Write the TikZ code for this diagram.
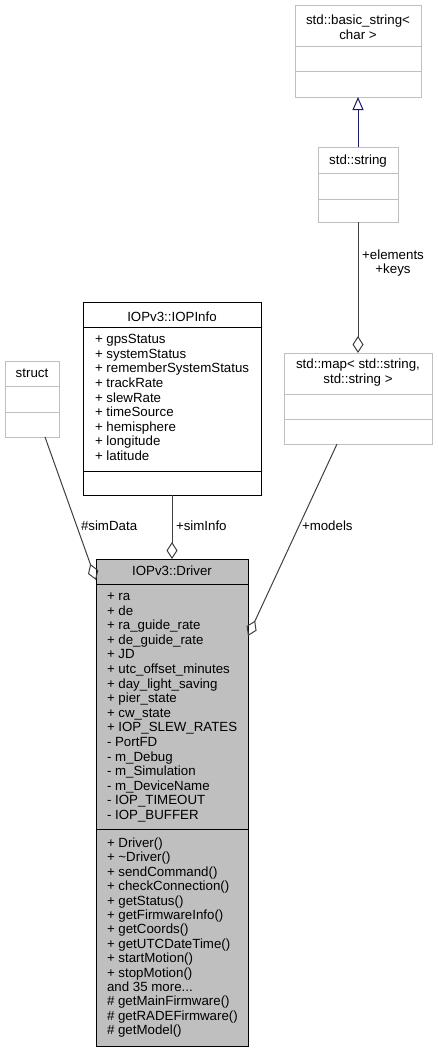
\documentclass[tikz,border=0pt]{standalone}
\usepackage{fontspec}
\setmainfont{Liberation Sans}
\usetikzlibrary{arrows.meta}
\definecolor{boxgray}{HTML}{BFBFBF}
\definecolor{edgegray}{HTML}{404040}
\definecolor{navyedge}{HTML}{191970}
\newcommand\mymoredots{...}
\begin{document}
\begin{tikzpicture}[x=1pt,y=-1pt,
  every node/.style={font=\fontsize{13.3}{14.5}\selectfont, inner sep=0pt, outer sep=0pt},
  lightbox/.style={draw=boxgray, line width=1pt, fill=white, anchor=north west},
  darkbox/.style={draw=black, line width=1pt, fill=white, anchor=north west},
  drvbox/.style={draw=black, line width=1pt, fill=boxgray, anchor=north west},
  lightdiv/.style={draw=boxgray, line width=1pt},
  darkdiv/.style={draw=black, line width=1pt},
  txt/.style={anchor=base},
  item/.style={anchor=base west},
  lbl/.style={anchor=base west},
  usage/.style={draw=edgegray, line width=1pt, -{Diamond[open, length=17pt, width=11pt]}},
  inherit/.style={draw=navyedge, line width=1pt, -{Triangle[open, length=13pt, width=11pt]}}
]
\fill[white] (0,0) rectangle (438,1052);
\useasboundingbox (0,0) rectangle (438,1052);

% std::basic_string< char >
\node[lightbox, minimum width=126pt, minimum height=92pt] (bstr) at (295,5) {};
\draw[lightdiv] (bstr.west |- 0,46) -- (bstr.east |- 0,46);
\draw[lightdiv] (bstr.west |- 0,71) -- (bstr.east |- 0,71);
\node[txt] (bstr-t1) at (358,24) {std::basic\_string<};
\node[txt] (bstr-t2) at (358,39) {char >};

% std::string
\node[lightbox, minimum width=80pt, minimum height=75pt] (sstr) at (318,147) {};
\draw[lightdiv] (sstr.west |- 0,173) -- (sstr.east |- 0,173);
\draw[lightdiv] (sstr.west |- 0,199) -- (sstr.east |- 0,199);
\node[txt] (sstr-t) at (358,164) {std::string};

% std::map
\node[lightbox, minimum width=148pt, minimum height=91pt] (map) at (284,353) {};
\draw[lightdiv] (map.west |- 0,394) -- (map.east |- 0,394);
\draw[lightdiv] (map.west |- 0,419) -- (map.east |- 0,419);
\node[txt] (map-t1) at (358,368) {std::map< std::string,};
\node[txt] (map-t2) at (358,383) {std::string >};

% struct
\node[lightbox, minimum width=54pt, minimum height=76pt] (struct) at (5,361) {};
\draw[lightdiv] (struct.west |- 0,386) -- (struct.east |- 0,386);
\draw[lightdiv] (struct.west |- 0,412) -- (struct.east |- 0,412);
\node[txt] (struct-t) at (32,377.5) {struct};

% IOPv3::IOPInfo
\node[darkbox, minimum width=178pt, minimum height=193pt] (iop) at (83,302) {};
\draw[darkdiv] (iop.west |- 0,327) -- (iop.east |- 0,327);
\draw[darkdiv] (iop.west |- 0,471) -- (iop.east |- 0,471);
\node[txt] (iop-t) at (172,321) {IOPv3::IOPInfo};
\foreach \t [count=\i] in {+ gpsStatus, + systemStatus, + rememberSystemStatus, + trackRate,
  + slewRate, + timeSource, + hemisphere, + longitude, + latitude}
  \node[item] (iop-a\i) at (95,{343.7+(\i-1)*14.6}) {\t};

% IOPv3::Driver
\node[drvbox, minimum width=152pt, minimum height=487pt] (drv) at (96,559) {};
\draw[darkdiv] (drv.west |- 0,584) -- (drv.east |- 0,584);
\draw[darkdiv] (drv.west |- 0,829) -- (drv.east |- 0,829);
\node[txt] (drv-t) at (172,575.5) {IOPv3::Driver};
\foreach \t [count=\i] in {+ ra, + de, + ra\_guide\_rate, + de\_guide\_rate, + JD,
  + utc\_offset\_minutes, + day\_light\_saving, + pier\_state, + cw\_state,
  + IOP\_SLEW\_RATES, - PortFD, - m\_Debug, - m\_Simulation, - m\_DeviceName,
  - IOP\_TIMEOUT, - IOP\_BUFFER}
  \node[item] (drv-a\i) at (107,{600.5+(\i-1)*14.6}) {\t};
\foreach \t [count=\i] in {+ Driver(), + \textasciitilde Driver(), + sendCommand(),
  + checkConnection(), + getStatus(), + getFirmwareInfo(), + getCoords(),
  + getUTCDateTime(), + startMotion(), + stopMotion(), {and 35 more\mymoredots},
  {\# getMainFirmware()}, {\# getRADEFirmware()}, {\# getModel()}}
  \node[item] (drv-m\i) at (107,{847.5+(\i-1)*14.4}) {\t};

% connectors
\draw[inherit] (sstr.north) -- (bstr.south);
\draw[usage] (sstr.south) -- (map.north);
\draw[usage] (iop.south) -- (drv.north);
\draw[usage] (struct.south -| 45,0) -- (drv.west |- 0,580);
\draw[usage] (map.south -| 337,0) -- (drv.east |- 0,636);

% labels
\node[txt] (lab-el) at (393,259) {+elements};
\node[txt] (lab-keys) at (393,273) {+keys};
\node[lbl] (lab-simdata) at (81,530) {\#simData};
\node[lbl] (lab-siminfo) at (176,530) {+simInfo};
\node[lbl] (lab-models) at (302,530) {+models};
\end{tikzpicture}
\end{document}
